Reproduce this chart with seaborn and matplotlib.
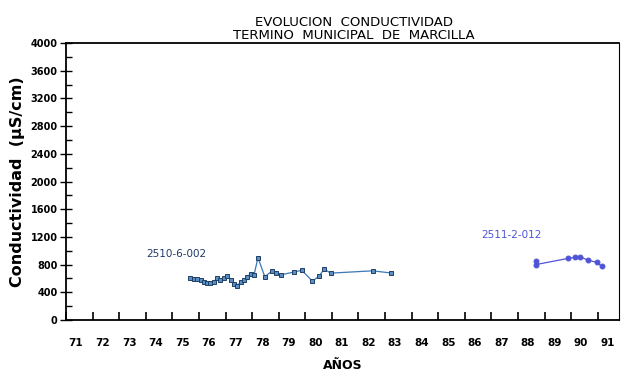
import matplotlib
matplotlib.use("Agg")
import matplotlib.pyplot as plt
import matplotlib.transforms as mtransforms
import seaborn as sns
import pandas as pd
import numpy as np

# Series 1: 2510-6-002
years_a = [75.68, 75.80, 75.93, 76.06, 76.18, 76.31, 76.43, 76.56, 76.68, 76.81,
           76.94, 77.06, 77.19, 77.31, 77.44, 77.57, 77.69, 77.82, 77.94, 78.07,
           78.22, 78.48, 78.76, 78.89, 79.08, 79.58, 79.87, 80.27, 80.52, 80.71,
           80.96, 82.53, 83.23]
cond_a = [600, 586, 595, 573, 553, 540, 532, 555, 605, 577,
          607, 640, 579, 522, 498, 547, 582, 620, 670, 646,
          900, 624, 712, 675, 652, 693, 718, 561, 635, 733,
          677, 710, 679]

# Series 2: 2511-2-012
years_b = [88.67, 88.67, 89.89, 90.14, 90.33, 90.65, 90.96, 91.15]
cond_b = [852, 800, 890, 905, 915, 860, 835, 775]

label_a = "2510-6-002"
label_b = "2511-2-012"
year_ticks = list(range(71, 92))
y_ticks = list(range(0, 4001, 400))

title = "EVOLUCION  CONDUCTIVIDAD\nTERMINO  MUNICIPAL  DE  MARCILLA"

df_a = pd.DataFrame({"year": years_a, "cond": cond_a})
df_b = pd.DataFrame({"year": years_b, "cond": cond_b})

sns.set_theme(style="white")
plt.rcParams["font.family"] = ["DejaVu Sans"]
plt.rcParams["text.color"] = "black"
plt.rcParams["xtick.color"] = "black"
plt.rcParams["ytick.color"] = "black"
plt.rcParams["axes.labelcolor"] = "black"

fig = plt.figure(figsize=(6.21, 3.74), dpi=100)
ax = fig.add_axes([66 / 621, 1 - 320 / 374, (619 - 66) / 621, (320 - 43) / 374])

col_a = "#3b78b8"
col_b = "#4f54d6"
sns.lineplot(data=df_a, x="year", y="cond", ax=ax, color=col_a, linewidth=0.9,
             marker="s", markersize=3.3, markerfacecolor="#5b8fc4",
             markeredgecolor="#1f3f66", markeredgewidth=0.7, estimator=None, sort=False)
sns.lineplot(data=df_b, x="year", y="cond", ax=ax, color=col_b, linewidth=0.9,
             marker="o", markersize=3.5, markerfacecolor=col_b,
             markeredgecolor=col_b, estimator=None, sort=False)

ax.text(75.15, 950, label_a, color="#1f3a6a", fontsize=7.5, ha="center", va="center")
ax.text(87.75, 1230, label_b, color=col_b, fontsize=7.5, ha="center", va="center")

ax.set_xlim(71, 91.8)
ax.set_ylim(0, 4000)
ax.set_xticks(year_ticks)
ax.set_xticklabels([str(y) for y in year_ticks], fontsize=7.5, fontweight="bold")
ax.set_yticks(y_ticks)
ax.set_yticklabels([str(v) for v in y_ticks], fontsize=7, fontweight="bold")
ax.set_yticks(list(range(200, 4000, 400)), minor=True)

ax.tick_params(axis="x", which="major", direction="in", length=6, width=1.2,
               color="black", labelcolor="black", pad=13, bottom=True)
ax.tick_params(axis="y", which="major", direction="inout", length=8, width=1.0,
               color="black", labelcolor="black", pad=2, left=True)
ax.tick_params(axis="y", which="minor", direction="in", length=4, width=1.0,
               color="black", left=True)

offset = mtransforms.ScaledTranslation(10 / 100, 0, fig.dpi_scale_trans)
for lbl in ax.get_xticklabels():
    lbl.set_transform(lbl.get_transform() + offset)

for side in ["left", "bottom", "top", "right"]:
    ax.spines[side].set_visible(True)
    ax.spines[side].set_color("black")
    ax.spines[side].set_linewidth(1.3)
ax.spines["right"].set_linewidth(0.8)

ax.set_xlabel("AÑOS", fontsize=9, fontweight="bold", labelpad=8, color="black")
ax.set_ylabel("Conductividad  (µS/cm)", fontsize=11.5, fontweight="bold", labelpad=4,
              color="black")
ax.set_title(title, fontsize=9.5, linespacing=0.95, pad=3, x=0.52, color="black")
ax.grid(False)

fig.savefig("out.png", dpi=100, facecolor="white")
